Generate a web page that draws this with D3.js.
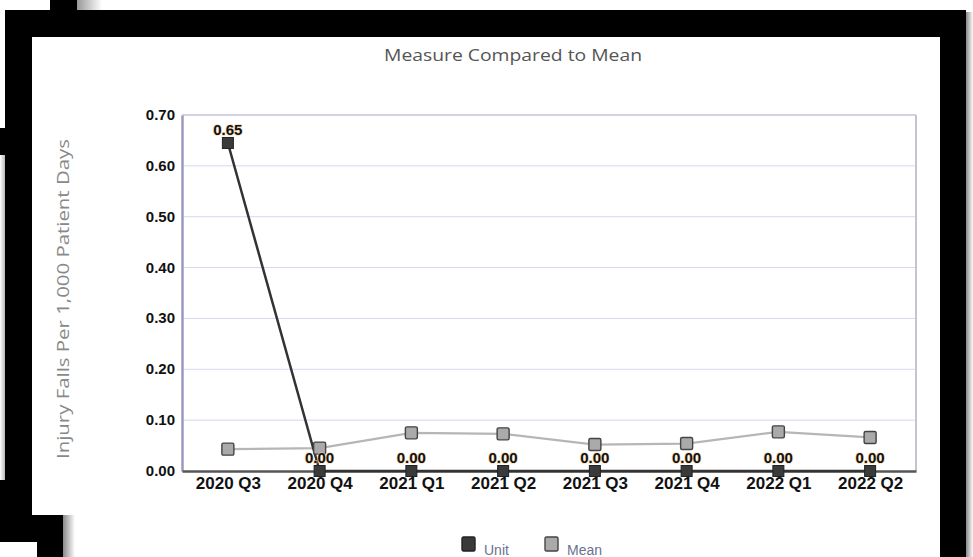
<!DOCTYPE html>
<html><head><meta charset="utf-8">
<script src="https://cdn.jsdelivr.net/npm/d3@7"></script>
<style>
html,body{margin:0;padding:0;background:#fff;}
svg{display:block;}
.lbl{font-family:"Liberation Sans",Arial,sans-serif;font-weight:bold;fill:#111;}
</style></head>
<body>
<svg id="c" width="973" height="557"></svg>
<script>
const categories = ["2020 Q3","2020 Q4","2021 Q1","2021 Q2","2021 Q3","2021 Q4","2022 Q1","2022 Q2"];
const unitValues = [0.645,0,0,0,0,0,0,0];
const meanValues = [0.043,0.045,0.075,0.073,0.052,0.054,0.077,0.066];
const yTicks = [0,0.1,0.2,0.3,0.4,0.5,0.6,0.7];
const seriesNames = ["Unit","Mean"];

const svg = d3.select("#c");
const defs = svg.append("defs");
const g1 = defs.append("linearGradient").attr("id","shR").attr("x1",0).attr("x2",1);
g1.append("stop").attr("offset",0).attr("stop-color","#888");
g1.append("stop").attr("offset",1).attr("stop-color","#fff");
const g2 = defs.append("linearGradient").attr("id","shL").attr("x1",0).attr("x2",1);
g2.append("stop").attr("offset",0).attr("stop-color","#fff");
g2.append("stop").attr("offset",1).attr("stop-color","#aaa");
const g3 = defs.append("linearGradient").attr("id","shT").attr("x1",0).attr("x2",1);
g3.append("stop").attr("offset",0).attr("stop-color","#999");
g3.append("stop").attr("offset",1).attr("stop-color","#fff");

// decorative frame
const frame = svg.append("g");
frame.append("rect").attr("x",966).attr("y",12).attr("width",7).attr("height",545).attr("fill","url(#shR)");
frame.append("rect").attr("x",77).attr("y",0).attr("width",25).attr("height",10).attr("fill","url(#shT)");
frame.append("rect").attr("x",0).attr("y",155).attr("width",6).attr("height",360).attr("fill","url(#shL)");
frame.append("rect").attr("x",63).attr("y",515).attr("width",12).attr("height",42).attr("fill","url(#shR)");
frame.append("rect").attr("x",5).attr("y",10).attr("width",961).attr("height",27).attr("fill","#000");
frame.append("rect").attr("x",50).attr("y",0).attr("width",27).attr("height",10).attr("fill","#000");
frame.append("rect").attr("x",5).attr("y",10).attr("width",27).attr("height",505).attr("fill","#000");
frame.append("rect").attr("x",0).attr("y",128).attr("width",32).attr("height",27).attr("fill","#000");
frame.append("rect").attr("x",0).attr("y",480).attr("width",32).attr("height",35).attr("fill","#000");
frame.append("rect").attr("x",0).attr("y",515).attr("width",63).attr("height",27).attr("fill","#000");
frame.append("rect").attr("x",37).attr("y",542).attr("width",26).attr("height",15).attr("fill","#000");
frame.append("rect").attr("x",940).attr("y",10).attr("width",26).attr("height",547).attr("fill","#000");

const L = 182, R = 916, T = 115, B = 471;
const x = d3.scalePoint().domain(categories).range([L, R]).padding(0.5);
const y = d3.scaleLinear().domain([0, 0.7]).range([B, T]);

svg.append("text").attr("x",513).attr("y",61).attr("text-anchor","middle")
  .attr("textLength",258).attr("lengthAdjust","spacingAndGlyphs")
  .style("font-family","'Open Sans',sans-serif").style("font-size","17px").attr("fill","#555")
  .text("Measure Compared to Mean");

svg.append("text").attr("transform","translate(69,299) rotate(-90)").attr("text-anchor","middle")
  .attr("textLength",320).attr("lengthAdjust","spacingAndGlyphs")
  .style("font-family","'Open Sans',sans-serif").style("font-size","16px").attr("fill","#888")
  .text("Injury Falls Per 1,000 Patient Days");

// gridlines
svg.append("g").selectAll("line").data(yTicks.slice(1)).join("line")
  .attr("x1",L).attr("x2",R).attr("y1",d=>y(d)).attr("y2",d=>y(d))
  .attr("stroke",d=>d===0.7?"#c4c4dc":"#d6d6f2").attr("stroke-width",d=>d===0.7?1.5:1);
svg.append("line").attr("x1",R).attr("x2",R).attr("y1",T).attr("y2",B).attr("stroke","#c4c4cc").attr("stroke-width",2);

// y axis
const yAxis = d3.axisLeft(y).tickValues(yTicks).tickFormat(d3.format(".2f")).tickSize(0).tickPadding(7);
const ya = svg.append("g").attr("transform",`translate(${L},0)`).call(yAxis);
ya.select(".domain").attr("stroke","#9a9ac0").attr("stroke-width",2.5);
ya.selectAll("text").attr("class","lbl").style("font-size","15px").attr("dy","0.3em");

// x axis
const xAxis = d3.axisBottom(x).tickSize(0).tickPadding(6);
const xa = svg.append("g").attr("transform",`translate(0,${B})`).call(xAxis);
xa.select(".domain").attr("stroke","#555").attr("stroke-width",2.5);
xa.selectAll("text").attr("class","lbl").style("font-size","17px").attr("dy","0.72em");

// mean line
const line = d3.line().x((d,i)=>x(categories[i])).y(d=>y(d));
svg.append("path").datum(meanValues).attr("d",line).attr("fill","none").attr("stroke","#b6b6b6").attr("stroke-width",2.2);
// unit line
svg.append("path").datum(unitValues).attr("d",line).attr("fill","none").attr("stroke","#333").attr("stroke-width",2.5);

const SM = 12, SU = 11;
svg.append("g").selectAll("rect").data(meanValues).join("rect")
  .attr("x",(d,i)=>x(categories[i])-SM/2).attr("y",d=>y(d)-SM/2).attr("width",SM).attr("height",SM)
  .attr("rx",1.5).attr("fill","#aaa").attr("stroke","#444").attr("stroke-width",1.4);
svg.append("g").selectAll("rect").data(unitValues).join("rect")
  .attr("x",(d,i)=>x(categories[i])-SU/2).attr("y",d=>y(d)-SU/2).attr("width",SU).attr("height",SU)
  .attr("fill","#3a3a3a").attr("stroke","#222").attr("stroke-width",1);

svg.append("g").selectAll("text").data(unitValues).join("text")
  .attr("class","lbl").attr("text-anchor","middle")
  .attr("x",(d,i)=>x(categories[i])).attr("y",d=>y(d)-8)
  .style("font-size","15px")
  .attr("stroke","#f2cf9c").attr("stroke-width",1.6).attr("stroke-opacity",0.7)
  .style("paint-order","stroke")
  .text(d=>d3.format(".2f")(d));

// legend
const legColors = [["#3a3a3a","#222"],["#aaa","#444"]];
const legX = [462, 545];
const lg = svg.append("g").selectAll("g").data(seriesNames).join("g")
  .attr("transform",(d,i)=>`translate(${legX[i]},537)`);
lg.append("rect").attr("width",13).attr("height",14).attr("rx",1.5)
  .attr("fill",(d,i)=>legColors[i][0]).attr("stroke",(d,i)=>legColors[i][1]).attr("stroke-width",1.4);
lg.append("text").attr("x",22).attr("y",18).text(d=>d)
  .style("font-family","'Liberation Sans',Arial,sans-serif").style("font-size","14px").attr("fill","#6a7290");
</script>
</body></html>
